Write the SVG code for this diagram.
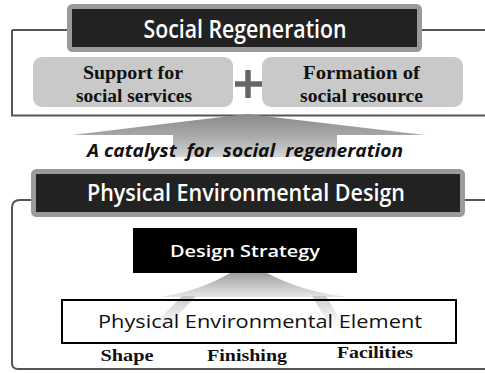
<svg xmlns="http://www.w3.org/2000/svg" width="485" height="373" viewBox="0 0 485 373">
<defs>
<linearGradient id="upArrow" x1="0" y1="0" x2="0" y2="1">
<stop offset="0" stop-color="#8a8a8a"/>
<stop offset="0.5" stop-color="#a8a8a8"/>
<stop offset="1" stop-color="#d4d4d4"/>
</linearGradient>
<linearGradient id="fan" x1="0" y1="0" x2="0" y2="1">
<stop offset="0" stop-color="#a0a0a0"/>
<stop offset="1" stop-color="#e6e6e6"/>
</linearGradient>
<linearGradient id="arm" x1="0" y1="0" x2="0" y2="1">
<stop offset="0" stop-color="#c8c8c8"/>
<stop offset="1" stop-color="#ffffff" stop-opacity="0"/>
</linearGradient>
<style>
.frame{fill:none;stroke:#555;stroke-width:2}
.title-bg{fill:#222;stroke:#9a9a9a;stroke-width:5}
.title{font-family:"Open Sans","Noto Sans",sans-serif;font-weight:600;fill:#fff;text-anchor:middle}
.pill{fill:#c9c9c9}
.serif{font-family:"Liberation Serif","Times New Roman",serif;font-weight:bold;fill:#111;text-anchor:middle}
</style>
</defs>

<g id="connectors">
<path class="frame" d="M12,30 H490 M12,30 V115.5 H490"/>
<path class="frame" d="M490,200 H20 Q12,200 12,208 V363 Q12,369 18,369 H490"/>
<path d="M72,135 L247,114 L425,135 L337,135 L337,157 L173,157 L173,135 Z" fill="url(#upArrow)"/>
<text x="245" y="157" font-family="'Open Sans','Noto Sans',sans-serif" font-weight="bold" font-style="italic" font-size="17" fill="#111" text-anchor="middle" textLength="316" lengthAdjust="spacingAndGlyphs" xml:space="preserve">A catalyst  for  social  regeneration</text>
</g>

<g id="social-regeneration">
<rect class="title-bg" x="69.5" y="6.5" width="350" height="43" rx="3"/>
<text class="title" x="245" y="38" font-size="24.5" textLength="203" lengthAdjust="spacingAndGlyphs">Social Regeneration</text>
</g>

<g id="support">
<rect class="pill" x="33" y="57" width="200" height="50" rx="9"/>
<text class="serif" x="133" y="79" font-size="18" textLength="100" lengthAdjust="spacingAndGlyphs">Support for</text>
<text class="serif" x="134" y="102" font-size="18" textLength="116" lengthAdjust="spacingAndGlyphs">social services</text>
</g>

<g id="plus">
<path d="M248,70 V98 M235,84 H262" stroke="#666" stroke-width="5.5" fill="none"/>
</g>

<g id="formation">
<rect class="pill" x="262" y="57" width="201" height="50" rx="9"/>
<text class="serif" x="361.5" y="79" font-size="18" textLength="117" lengthAdjust="spacingAndGlyphs">Formation of</text>
<text class="serif" x="361.5" y="102" font-size="18" textLength="123" lengthAdjust="spacingAndGlyphs">social resource</text>
</g>

<g id="physical-design">
<rect class="title-bg" x="33.5" y="171.5" width="429" height="43" rx="3"/>
<text class="title" x="246" y="200.5" font-size="23.5" textLength="318" lengthAdjust="spacingAndGlyphs">Physical Environmental Design</text>
</g>

<g id="design-strategy">
<rect x="133" y="228" width="224" height="45" fill="#000"/>
<text x="245" y="257" font-family="'Open Sans','Noto Sans',sans-serif" font-weight="600" font-size="17" fill="#fff" text-anchor="middle" textLength="150" lengthAdjust="spacingAndGlyphs">Design Strategy</text>
</g>

<g id="element">
<rect x="62" y="300" width="394" height="43" fill="#fff"/>
<path d="M230,273 L267,273 Q300,291 347,297 L160,297 Q200,291 230,273 Z" fill="url(#fan)"/>
<path d="M182,296 L196,296 L150,345 L134,345 Z" fill="url(#arm)"/>
<path d="M312,296 L326,296 L352,340 L338,340 Z" fill="url(#arm)"/>
<rect x="62" y="300" width="394" height="43" fill="none" stroke="#000" stroke-width="2"/>
<text x="260" y="327.5" font-family="'Open Sans','Noto Sans',sans-serif" font-size="18.5" fill="#111" text-anchor="middle" textLength="324" lengthAdjust="spacingAndGlyphs">Physical Environmental Element</text>
</g>

<g id="labels">
<text class="serif" x="127" y="361" font-size="17" textLength="53" lengthAdjust="spacingAndGlyphs">Shape</text>
<text class="serif" x="247" y="361" font-size="17" textLength="80" lengthAdjust="spacingAndGlyphs">Finishing</text>
<text class="serif" x="375" y="358" font-size="17" textLength="76" lengthAdjust="spacingAndGlyphs">Facilities</text>
</g>
</svg>
